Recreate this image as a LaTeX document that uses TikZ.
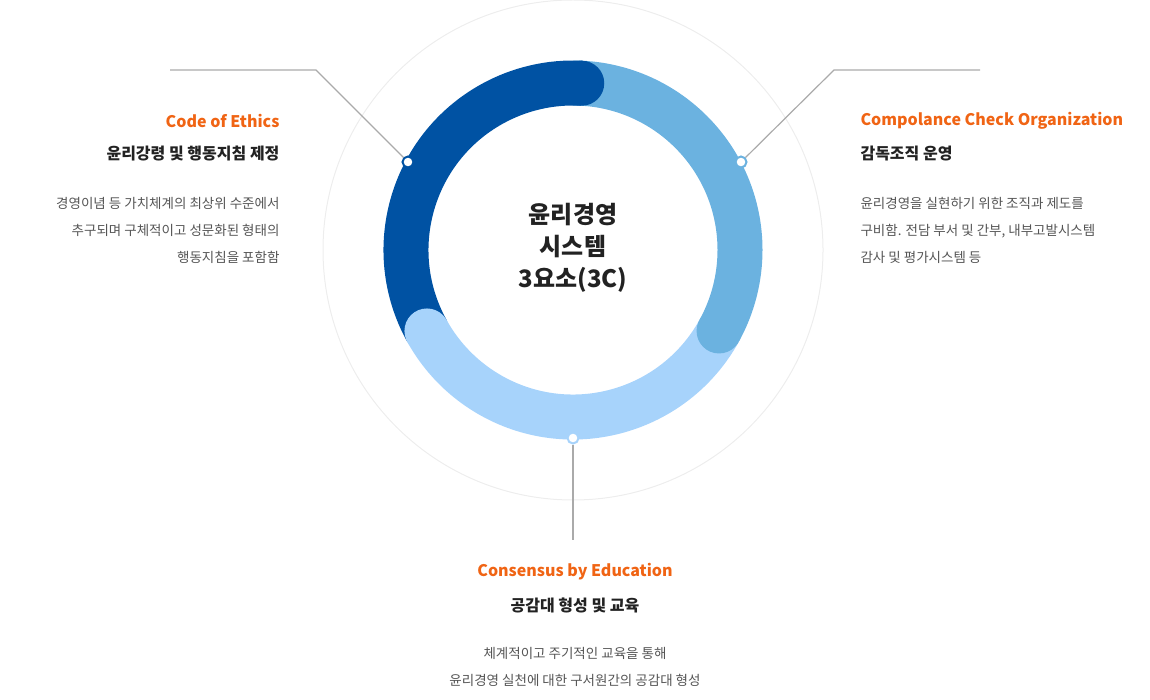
\documentclass[tikz,border=0pt]{standalone}
\usepackage{fontspec}
\setmainfont{Noto Sans CJK KR}
\begin{document}
\begin{tikzpicture}[x=1pt,y=-1pt,
  ttl/.style={text=orange1,font=\fontsize{16}{18}\selectfont\bfseries},
  kt/.style={text=txt,font=\fontsize{16}{18}\selectfont\bfseries},
  ds/.style={text=dsc,font=\fontsize{13.5}{27}\selectfont,align=#1},
  ln/.style={draw=lgray,line width=1.2pt},
  dot/.style={circle,draw=#1,line width=2pt,fill=white,minimum size=11pt,inner sep=0pt}]
\definecolor{dk}{HTML}{0052A3}
\definecolor{md}{HTML}{6BB2E0}
\definecolor{lt}{HTML}{A7D3FB}
\definecolor{orange1}{HTML}{F06414}
\definecolor{txt}{HTML}{222222}
\definecolor{dsc}{HTML}{555555}
\definecolor{lgray}{HTML}{AAAAAA}
\useasboundingbox (0,0) rectangle (1150,700);
\coordinate (c) at (573,250);
\draw[draw=black!7,line width=1pt] (c) circle[radius=250];
% ring (y flipped: angles measured clockwise on screen)
\begin{scope}[y=1pt]
\coordinate (cc) at (573,-250);
\draw[md,line width=45pt] ([shift={(90:167)}]cc) arc[start angle=90,end angle=-29,radius=167];
\draw[lt,line width=45pt] ([shift={(-29:167)}]cc) arc[start angle=-29,end angle=-151,radius=167];
\draw[dk,line width=45pt] ([shift={(209:167)}]cc) arc[start angle=209,end angle=87,radius=167];
\fill[dk] ([shift={(87:167)}]cc) circle[radius=22.5];
\fill[md] ([shift={(-29:167)}]cc) circle[radius=22.5];
\fill[lt] ([shift={(209:167)}]cc) circle[radius=22.5];
\end{scope}
\node[font=\fontsize{24}{32}\selectfont\bfseries,text=txt,align=center] (ctr) at (573,248) {윤리경영\\시스템\\3요소(3C)};
% connectors
\node[dot=dk] (d1) at (408,162) {};
\node[dot=md] (d2) at (741,162) {};
\node[dot=lt] (d3) at (573,438) {};
\coordinate (l1a) at (170,70); \coordinate (l1b) at (316,70);
\coordinate (l2a) at (980,70); \coordinate (l2b) at (834,70);
\coordinate (l3) at (573,540);
\draw[ln] (l1a) -- (l1b) -- (d1);
\draw[ln] (l2a) -- (l2b) -- (d2);
\draw[ln] (d3) -- (l3);
% left
\node[ttl,anchor=east] (t1) at (283,121) {Code of Ethics};
\node[kt,anchor=east] (k1) at (283,154) {윤리강령 및 행동지침 제정};
\node[ds=right,anchor=north east] (s1) at (283,194) {경영이념 등 가치체계의 최상위 수준에서\\추구되며 구체적이고 성문화된 형태의\\행동지침을 포함함};
% right
\node[ttl,anchor=west] (t2) at (857,121) {Compolance Check Organization};
\node[kt,anchor=west] (k2) at (857,154) {감독조직 운영};
\node[ds=left,anchor=north west] (s2) at (857,194) {윤리경영을 실현하기 위한 조직과 제도를\\구비함. 전담 부서 및 간부, 내부고발시스템\\감사 및 평가시스템 등};
% bottom
\node[ttl] (t3) at (575,572) {Consensus by Education};
\node[kt] (k3) at (575,605) {공감대 형성 및 교육};
\node[ds=center,anchor=north] (s3) at (575,644) {체계적이고 주기적인 교육을 통해\\윤리경영 실천에 대한 구서원간의 공감대 형성};
\end{tikzpicture}
\end{document}
